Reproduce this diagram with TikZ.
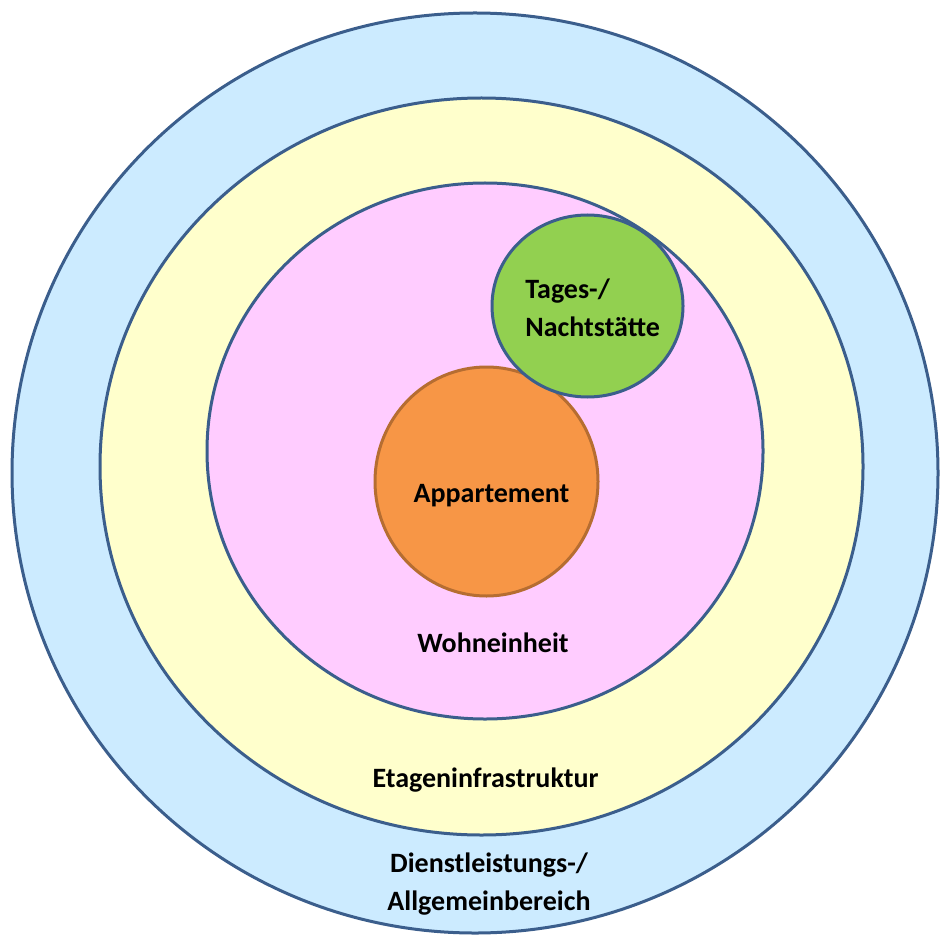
\documentclass[tikz,border=0pt]{standalone}
\usepackage{fontspec}
\setmainfont{Carlito}
\usepackage{tikz}
\usetikzlibrary{shapes.geometric}

\definecolor{rand}{HTML}{3B5E8C}
\definecolor{randor}{HTML}{B66D31}
\definecolor{blau}{HTML}{CCEBFF}
\definecolor{gelb}{HTML}{FFFFCC}
\definecolor{rosa}{HTML}{FFCCFF}
\definecolor{gruen}{HTML}{92D050}
\definecolor{orange}{HTML}{F79646}

\begin{document}
\begin{tikzpicture}[x=0.5pt, y=-0.5pt,
  zone/.style={ellipse, draw=rand, line width=1.5pt, inner sep=0pt},
  txt/.style={font=\fontsize{14}{19}\selectfont\bfseries, inner sep=0pt}]

  \useasboundingbox (0,0) rectangle (940,935);

  \node[zone, fill=blau, minimum width=463pt, minimum height=460pt]
    (dienst) at (475,473) {};
  \node[zone, fill=gelb, minimum width=381.5pt, minimum height=368.5pt]
    (etage) at (481.5,466.5) {};
  \node[zone, fill=rosa, minimum width=278pt, minimum height=268pt]
    (wohn) at (485,451) {};
  \node[zone, fill=orange, draw=randor, minimum width=111.5pt, minimum height=114.5pt]
    (app) at (486.5,481.5) {};
  \node[zone, fill=gruen, minimum width=95.5pt, minimum height=91pt]
    (tages) at (587.5,306) {};

  \node[txt, anchor=base] (tapp) at (491.5,502) {Appartement};
  \node[txt, anchor=west, align=left] (ttages) at (525,307.5)
    {Tages-/\\Nachtstätte};
  \node[txt, anchor=base] (twohn) at (493,652) {Wohneinheit};
  \node[txt, anchor=base] (tetage) at (485.5,787) {Etageninfrastruktur};
  \node[txt, align=center] (tdienst) at (489,884)
    {Dienstleistungs-/\\Allgemeinbereich};
\end{tikzpicture}
\end{document}
